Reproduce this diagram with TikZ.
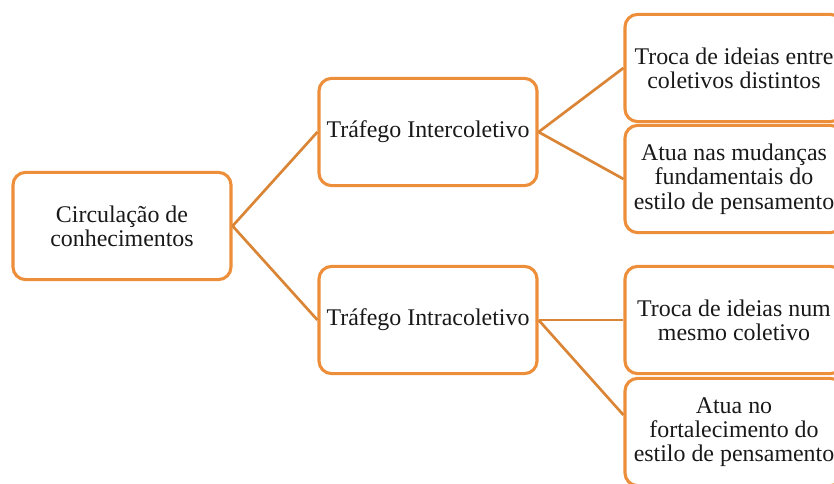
\documentclass[tikz,border=0pt]{standalone}
\usepackage{fontspec}
\setmainfont{Liberation Serif}
\usetikzlibrary{calc}
\definecolor{laranja}{RGB}{237,143,58}
\begin{document}
\begin{tikzpicture}[x=0.025cm,y=-0.025cm]
% Estilos
\tikzstyle{caixa} = [rectangle, rounded corners=9pt, draw=laranja, line width=2.2pt, fill=white, minimum width=5.45cm, minimum height=2.68cm, align=center, text=black!90, font=\fontsize{17}{17.3}\selectfont, inner sep=1pt]
\tikzstyle{ligacao} = [draw=laranja!92!black, line width=1.9pt]
\useasboundingbox (0,0) rectangle (834,484);
\clip (0,0) rectangle (834,484);

% Raiz
\node[caixa] (circulacao) at (122,226) {Circulação de\\conhecimentos};

% Tipos de tráfego
\node[caixa] (inter) at (428,132) {Tráfego Intercoletivo};
\node[caixa] (intra) at (428,320) {Tráfego Intracoletivo};

% Características
\node[caixa] (trocaInter) at (734,68) {Troca de ideias entre\\coletivos distintos};
\node[caixa] (mudancas) at (734,179) {Atua nas mudanças\\fundamentais do\\estilo de pensamento};
\node[caixa] (trocaIntra) at (734,320) {Troca de ideias num\\mesmo coletivo};
\node[caixa] (fortalecimento) at (734,432) {Atua no\\fortalecimento do\\estilo de pensamento};
\coordinate (fortEntrada) at ($(fortalecimento.west)+(0,-17)$);

% Ligações
\draw[ligacao] (circulacao.east) -- (inter.west);
\draw[ligacao] (circulacao.east) -- (intra.west);
\draw[ligacao] (inter.east) -- (trocaInter.west);
\draw[ligacao] (inter.east) -- (mudancas.west);
\draw[ligacao] (intra.east) -- (trocaIntra.west);
\draw[ligacao] (intra.east) -- (fortEntrada);
\end{tikzpicture}
\end{document}
